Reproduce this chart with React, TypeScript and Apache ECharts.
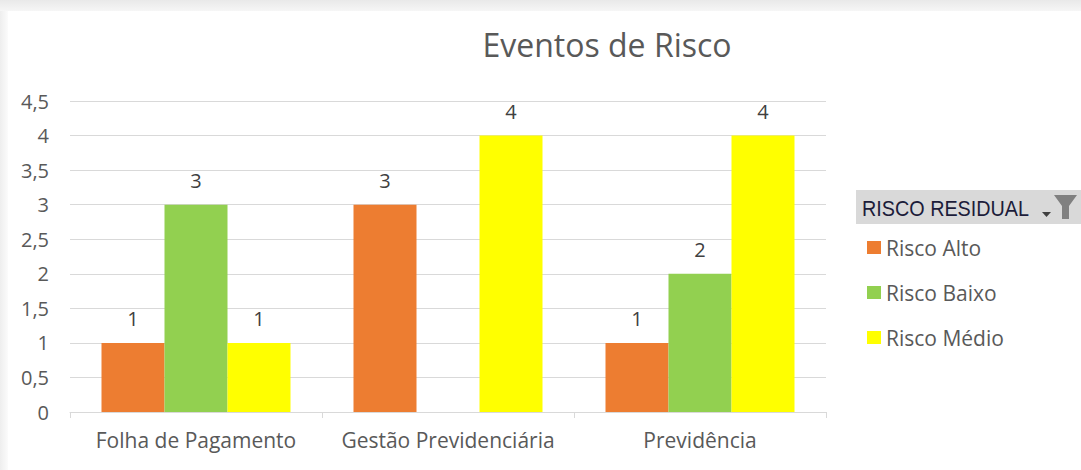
import React, { useEffect, useRef } from "react";
import * as echarts from "echarts";

const categories = ["Folha de Pagamento", "Gestão Previdenciária", "Previdência"];
const riscoAlto = [1, 3, 1];
const riscoBaixo = [3, null, 2];
const riscoMedio = [1, 4, 4];
const seriesNames = ["Risco Alto", "Risco Baixo", "Risco Médio"];
const seriesColors = ["#ED7D31", "#92D050", "#FFFF00"];
const titleText = "Eventos de Risco";
const legendTitle = "RISCO RESIDUAL";

export default function App() {
  const ref = useRef<HTMLDivElement>(null);
  useEffect(() => {
    document.body.style.margin = "0";
    const chart = echarts.init(ref.current!, null, { renderer: "svg" });
    const font = "'Open Sans', 'Noto Sans', sans-serif";
    const mk = (i: number, data: (number | null)[]) => ({
      name: seriesNames[i],
      type: "bar",
      data,
      barGap: "0%",
      barCategoryGap: "25%",
      itemStyle: { color: seriesColors[i] },
      label: {
        show: true,
        position: "top",
        distance: 14,
        color: "#404040",
        fontSize: 20,
        fontFamily: font,
      },
    });
    chart.setOption({
      animation: false,
      backgroundColor: "#ffffff",
      title: {
        text: titleText,
        left: 602,
        top: 23,
        textAlign: "center",
        textStyle: { color: "#595959", fontSize: 32, fontWeight: "normal", fontFamily: font },
      },
      grid: { left: 70, right: 255, top: 101, bottom: 58, containLabel: false },
      legend: {
        orient: "vertical",
        left: 867,
        top: 237,
        padding: 0,
        itemGap: 24,
        itemWidth: 14,
        itemHeight: 13,
        icon: "rect",
        data: seriesNames,
        textStyle: { color: "#595959", fontSize: 21, fontFamily: font },
      },
      xAxis: {
        type: "category",
        data: categories,
        axisLine: { show: true, lineStyle: { color: "#d9d9d9", width: 1 } },
        axisTick: { show: true, alignWithLabel: false, length: 6, lineStyle: { color: "#d9d9d9" } },
        axisLabel: {
          color: "#595959",
          fontSize: 21,
          margin: 17,
          fontFamily: font,
          interval: 0,
          hideOverlap: false,
        },
      },
      yAxis: {
        type: "value",
        min: 0,
        max: 4.5,
        interval: 0.5,
        axisLine: { show: false },
        axisTick: { show: false },
        splitLine: { lineStyle: { color: "#d9d9d9", width: 1 } },
        axisLabel: {
          color: "#595959",
          fontSize: 20,
          margin: 21,
          fontFamily: font,
          formatter: (v: number) => String(v).replace(".", ","),
        },
      },
      graphic: [
        {
          type: "rect",
          z: -10,
          shape: { x: 0, y: 0, width: 1081, height: 11 },
          style: {
            fill: new echarts.graphic.LinearGradient(0, 0, 0, 1, [
              { offset: 0, color: "#e9e9e9" },
              { offset: 1, color: "#f6f6f6" },
            ]),
          },
        },
        {
          type: "rect",
          z: -10,
          shape: { x: 0, y: 11, width: 8, height: 459 },
          style: {
            fill: new echarts.graphic.LinearGradient(0, 0, 1, 0, [
              { offset: 0, color: "#eeeeee" },
              { offset: 1, color: "#fbfbfb" },
            ]),
          },
        },
        {
          type: "rect",
          shape: { x: 856, y: 190, width: 225, height: 34 },
          style: { fill: "#d9d9d9" },
        },
        {
          type: "text",
          x: 862,
          y: 208,
          scaleX: 0.9,
          style: {
            text: legendTitle,
            fill: "#1c1c3a",
            font: "22px 'Liberation Sans', sans-serif",
            verticalAlign: "middle",
          },
        },
        {
          type: "polygon",
          shape: { points: [[1042, 212], [1051, 212], [1046.5, 217]] },
          style: { fill: "#404040" },
        },
        {
          type: "polygon",
          shape: {
            points: [[1054, 195], [1077, 195], [1069, 206], [1069, 219], [1062, 219], [1062, 206]],
          },
          style: { fill: "#808080" },
        },
      ],
      series: [mk(0, riscoAlto), mk(1, riscoBaixo), mk(2, riscoMedio)],
    });
    return () => chart.dispose();
  }, []);
  return (
    <div
      ref={ref}
      style={{ position: "absolute", left: 0, top: 0, width: 1081, height: 470 }}
    />
  );
}
